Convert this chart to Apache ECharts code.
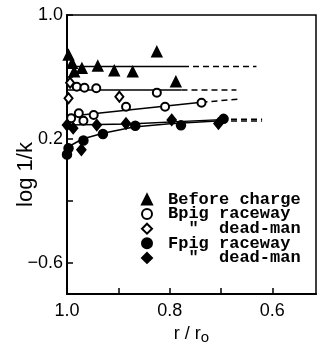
<!DOCTYPE html>
<html>
<head>
<meta charset="utf-8">
<script src="https://cdn.jsdelivr.net/npm/echarts@6/dist/echarts.min.js"></script>
<style>
    html, body { margin: 0; padding: 0; background: #fff; }
    #chart { width: 320px; height: 343px; }
</style>
</head>
<body>
<div id="chart"></div>
<script>
// 测点数据 [r/ro, log 1/k]
const beforeCharge = [[0.997, 0.742], [0.990, 0.688], [0.986, 0.634], [0.971, 0.656], [0.940, 0.671],
    [0.908, 0.641], [0.872, 0.634], [0.825, 0.763], [0.788, 0.570]]
const bpigRaceway = [[0.981, 0.537], [0.966, 0.531], [0.943, 0.527], [0.825, 0.499],
    [0.992, 0.334], [0.977, 0.366], [0.968, 0.318], [0.948, 0.355], [0.885, 0.408], [0.809, 0.408], [0.738, 0.434]]
const bpigDeadMan = [[0.994, 0.563], [0.997, 0.463], [0.898, 0.473]]
const fpigRaceway = [[1.0, 0.10], [0.997, 0.14], [0.968, 0.19], [0.930, 0.232], [0.867, 0.285], [0.778, 0.288], [0.695, 0.33]]
const fpigDeadMan = [[1.0, 0.29], [0.988, 0.27], [0.972, 0.13], [0.942, 0.29], [0.885, 0.30], [0.796, 0.323], [0.705, 0.30]]

// 拟合线 (实线 + 虚线延长)
const beforeFit = [[1.0, 0.668], [0.774, 0.668]]
const beforeFitExt = [[0.774, 0.668], [0.631, 0.668]]
const bpigDeadFit = [[1.0, 0.516], [0.777, 0.516]]
const bpigDeadFitExt = [[0.777, 0.516], [0.670, 0.516]]
const bpigRaceFit = [[1.0, 0.345], [0.738, 0.437]]
const bpigRaceFitExt = [[0.738, 0.437], [0.663, 0.458]]
const fpigRaceFit = [[1.0, 0.145], [0.97, 0.20], [0.93, 0.237], [0.87, 0.278], [0.80, 0.298], [0.70, 0.318]]
const fpigRaceFitExt = [[0.70, 0.316], [0.62, 0.316]]
const fpigDeadFit = [[1.0, 0.29], [0.88, 0.297], [0.70, 0.325]]
const fpigDeadFitExt = [[0.70, 0.327], [0.62, 0.328]]

const xTicks = [1.0, 0.9, 0.8, 0.7, 0.6]
const xLabels = [1.0, 0.8, 0.6]
const yTicks = [1.0, 0.6, 0.2, -0.2, -0.6]
const yLabels = [1.0, 0.2, -0.6]

const legendText = {
    'Before charge': 'Before charge',
    'Bpig raceway': 'Bpig raceway',
    'Bpig dead-man': '  "  dead-man',
    'Fpig raceway': 'Fpig raceway',
    'Fpig dead-man': '  "  dead-man'
}

function fitLine(data, dashed) {
    return {
        type: 'line',
        data: data,
        showSymbol: false,
        silent: true,
        z: 1,
        lineStyle: { color: '#000', width: 1.5, type: dashed ? [6, 4] : 'solid' }
    }
}

function points(name, data, symbol, size) {
    return {
        name: name,
        type: 'scatter',
        data: data,
        symbol: symbol,
        symbolSize: size,
        z: 3,
        itemStyle: { color: '#000', borderColor: '#000', borderWidth: 1.5, opacity: 1 }
    }
}

const chart = echarts.init(document.getElementById('chart'))
const option = {
    animation: false,
    grid: {
        left: 67, right: 4, top: 15, bottom: 49,
        outerBoundsMode: 'none',
        show: true, borderColor: '#000', borderWidth: 1.5
    },
    legend: {
        orient: 'vertical',
        left: 136,
        top: 186,
        itemWidth: 10,
        itemHeight: 10,
        itemGap: -2.4,
        formatter: (name) => legendText[name],
        textStyle: { fontFamily: 'Liberation Mono', fontSize: 17, fontWeight: 'bold', color: '#000', padding: [0, 0, 0, 11] },
        data: ['Before charge', 'Bpig raceway', 'Bpig dead-man', 'Fpig raceway', 'Fpig dead-man']
    },
    xAxis: {
        type: 'value',
        min: 0.515,
        max: 1.0,
        inverse: true,
        name: 'r / r{sub|o}',
        nameLocation: 'middle',
        nameGap: 30,
        nameTextStyle: {
            fontFamily: 'Liberation Sans', fontSize: 18, color: '#000',
            rich: { sub: { fontFamily: 'Liberation Sans', fontSize: 15, color: '#000', padding: [6, 0, 0, 0] } }
        },
        axisLine: { onZero: false, lineStyle: { color: '#000', width: 2 } },
        axisTick: { inside: true, length: 6, customValues: xTicks, lineStyle: { color: '#000', width: 1.5 } },
        axisLabel: {
            customValues: xLabels,
            margin: 8,
            fontFamily: 'Liberation Sans', fontSize: 18, color: '#000',
            formatter: (v) => v.toFixed(1)
        },
        splitLine: { show: false }
    },
    yAxis: {
        type: 'value',
        min: -0.8,
        max: 1.0,
        name: 'log 1/k',
        nameLocation: 'middle',
        nameGap: 30,
        nameMoveOverlap: false,
        nameTextStyle: { fontFamily: 'Liberation Sans', fontSize: 22, color: '#000', padding: [0, 40, 0, 0] },
        axisLine: { show: true, onZero: false, lineStyle: { color: '#000', width: 2 } },
        axisTick: { show: true, inside: true, length: 6, customValues: yTicks, lineStyle: { color: '#000', width: 1.5 } },
        axisLabel: {
            customValues: yLabels,
            margin: 4,
            fontFamily: 'Liberation Sans', fontSize: 18, color: '#000',
            formatter: (v) => v.toFixed(1).replace('-', '\u2212')
        },
        splitLine: { show: false }
    },
    series: [
        fitLine(beforeFit, false), fitLine(beforeFitExt, true),
        fitLine(bpigDeadFit, false), fitLine(bpigDeadFitExt, true),
        fitLine(bpigRaceFit, false), fitLine(bpigRaceFitExt, true),
        fitLine(fpigRaceFit, false), fitLine(fpigRaceFitExt, true),
        fitLine(fpigDeadFit, false), fitLine(fpigDeadFitExt, true),
        points('Before charge', beforeCharge, 'triangle', 10),
        points('Bpig raceway', bpigRaceway, 'emptyCircle', 8),
        points('Bpig dead-man', bpigDeadMan, 'emptyDiamond', [8, 10]),
        points('Fpig raceway', fpigRaceway, 'circle', 9),
        points('Fpig dead-man', fpigDeadMan, 'diamond', [9, 11])
    ]
}
chart.setOption(option)
</script>
</body>
</html>
